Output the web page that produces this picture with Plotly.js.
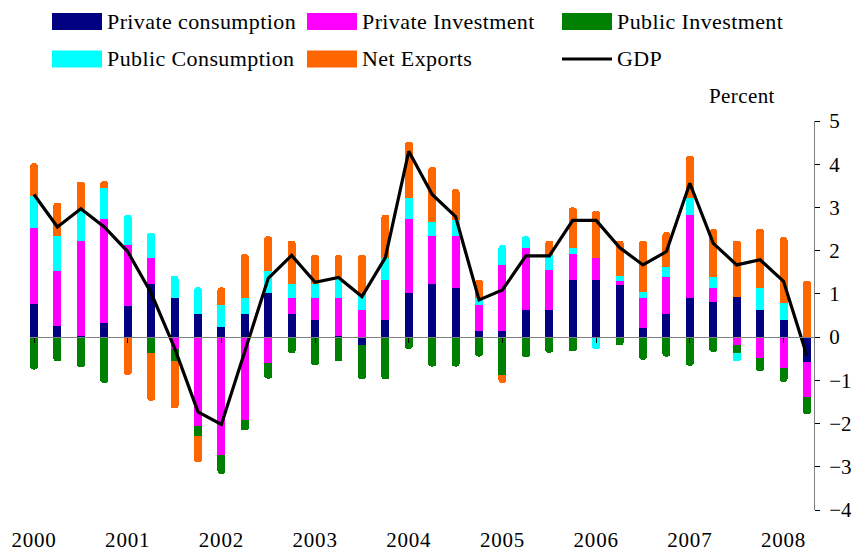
<!DOCTYPE html>
<html>
<head>
<meta charset="utf-8">
<script src="https://cdn.plot.ly/plotly-3.0.1.min.js"></script>
<style>
html,body{margin:0;padding:0;background:#fff;}
#chart{width:851px;height:556px;}
.annotation-text{letter-spacing:0.4px;}
.xtick text{letter-spacing:0.8px;}
</style>
</head>
<body>
<div id="chart"></div>
<script>
// Quarterly contributions to GDP growth (percent)
var quarters = ['2000Q1','2000Q2','2000Q3','2000Q4','2001Q1','2001Q2','2001Q3','2001Q4',
                '2002Q1','2002Q2','2002Q3','2002Q4','2003Q1','2003Q2','2003Q3','2003Q4',
                '2004Q1','2004Q2','2004Q3','2004Q4','2005Q1','2005Q2','2005Q3','2005Q4',
                '2006Q1','2006Q2','2006Q3','2006Q4','2007Q1','2007Q2','2007Q3','2007Q4',
                '2008Q1','2008Q2'];
var yearTickVals = ['2000Q1','2001Q1','2002Q1','2003Q1','2004Q1','2005Q1','2006Q1','2007Q1','2008Q1'];
var yearTickText = ['2000','2001','2002','2003','2004','2005','2006','2007','2008'];

var privateConsumption = [0.76,0.25,0.03,0.32,0.72,1.23,0.90,0.54,0.23,0.54,1.03,0.53,0.40,0.03,-0.18,0.40,
                          1.03,1.22,1.13,0.13,0.14,0.63,0.63,1.33,1.33,1.21,0.21,0.54,0.90,0.82,0.92,0.63,0.40,-0.58];
var privateInvestment  = [1.77,1.29,2.20,2.41,1.41,0.59,-0.28,-2.06,-2.72,-1.91,-0.60,0.37,0.50,0.87,0.63,0.91,
                          1.70,1.11,1.20,0.62,1.52,1.44,0.93,0.59,0.50,0.09,0.69,0.86,1.93,0.32,-0.19,-0.48,-0.71,-0.81];
var publicInvestment   = [-0.75,-0.56,-0.70,-1.06,0,-0.37,-0.28,-0.23,-0.44,-0.25,-0.36,-0.37,-0.65,-0.56,-0.80,-0.98,
                          -0.27,-0.68,-0.68,-0.45,-0.87,-0.46,-0.36,-0.33,0,-0.19,-0.52,-0.45,-0.66,-0.34,-0.17,-0.31,-0.33,-0.39];
var publicConsumption  = [0.74,0.79,0.74,0.71,0.70,0.60,0.52,0.61,0.52,0.36,0.51,0.32,0.32,0.50,0.35,0.51,
                          0.50,0.34,0.38,0.15,0.47,0.26,0.34,0.14,-0.28,0.12,0.14,0.23,0.38,0.26,-0.20,0.51,0.39,0];
var netExports         = [0.75,0.78,0.63,0.17,-0.87,-1.10,-1.09,-0.60,0.40,1.02,0.79,1.01,0.68,0.50,0.92,1.01,
                          1.29,1.26,0.71,0.43,-0.19,0,0.33,0.94,1.09,0.81,1.19,0.80,0.99,1.10,1.31,1.36,1.52,1.30];
var gdp                = [3.30,2.55,2.97,2.55,1.98,1.02,-0.25,-1.73,-2.02,-0.30,1.36,1.89,1.27,1.38,0.94,1.84,
                          4.30,3.30,2.79,0.86,1.09,1.88,1.88,2.70,2.70,2.07,1.67,1.98,3.56,2.17,1.67,1.79,1.29,-0.43];

var seriesNames  = ['Private consumption','Private Investment','Public Investment','Public Consumption','Net Exports'];
var seriesColors = ['#000080','#FF00FF','#008000','#00FFFF','#FF6600'];
var seriesData   = [privateConsumption, privateInvestment, publicInvestment, publicConsumption, netExports];

var FONT = '"Liberation Serif", "Times New Roman", serif';

var traces = seriesData.map(function(vals, k){
  return {
    type: 'bar', name: seriesNames[k], x: quarters, y: vals,
    width: 0.34,
    marker: {color: seriesColors[k], line: {width: 0}},
    hoverinfo: 'x+y+name'
  };
});
traces.push({
  type: 'scatter', mode: 'lines', name: 'GDP', x: quarters, y: gdp,
  line: {color: '#000000', width: 3.2}
});

// plot area in pixels
var L = 30, R = 814, T = 121, B = 510, W = 851, H = 556;
function px(x){ return (x - L) / (R - L); }
function py(y){ return (B - y) / (B - T); }

// manual legend (3 columns x 2 rows)
var legendItems = [
  {name: seriesNames[0], color: seriesColors[0], col: 0, row: 0, kind: 'box'},
  {name: seriesNames[1], color: seriesColors[1], col: 1, row: 0, kind: 'box'},
  {name: seriesNames[2], color: seriesColors[2], col: 2, row: 0, kind: 'box'},
  {name: seriesNames[3], color: seriesColors[3], col: 0, row: 1, kind: 'box'},
  {name: seriesNames[4], color: seriesColors[4], col: 1, row: 1, kind: 'box'},
  {name: 'GDP', color: '#000000', col: 2, row: 1, kind: 'line'}
];
var colX = [52, 307, 562];
var rowY = [21.5, 59];
var shapes = [], annotations = [];
legendItems.forEach(function(it){
  var x0 = colX[it.col], x1 = x0 + 50, yc = rowY[it.row];
  if (it.kind === 'box') {
    shapes.push({type: 'rect', xref: 'paper', yref: 'paper',
      x0: px(x0), x1: px(x1), y0: py(yc + 8.5), y1: py(yc - 8.5),
      fillcolor: it.color, line: {width: 0}});
  } else {
    shapes.push({type: 'line', xref: 'paper', yref: 'paper',
      x0: px(x0), x1: px(x1), y0: py(yc), y1: py(yc),
      line: {color: it.color, width: 3.2}});
  }
  annotations.push({xref: 'paper', yref: 'paper', x: px(x1 + 3), y: py(yc),
    xanchor: 'left', yanchor: 'middle', showarrow: false, text: it.name,
    font: {family: FONT, size: 22, color: '#000'}});
});
annotations.push({xref: 'paper', yref: 'paper', x: px(742), y: py(96),
  xanchor: 'center', yanchor: 'middle', showarrow: false, text: 'Percent',
  font: {family: FONT, size: 21, color: '#000'}});

var layout = {
  width: W, height: H,
  margin: {l: L, r: W - R, t: T, b: H - B, pad: 0},
  paper_bgcolor: '#fff', plot_bgcolor: '#fff',
  barmode: 'relative', bargap: 0,
  barcornerradius: 4,
  showlegend: false,
  font: {family: FONT, size: 21, color: '#000'},
  xaxis: {
    type: 'category', range: [-0.171, 33.30],
    anchor: 'free', position: (0 - (-4)) / 9,
    showline: true, linecolor: '#808080', linewidth: 1,
    ticks: 'outside', ticklen: 5, tickcolor: '#000', tickwidth: 1,
    tickmode: 'array', tickvals: yearTickVals, ticktext: yearTickText,
    ticklabelstandoff: 179,
    tickfont: {family: FONT, size: 21, color: '#000'},
    showgrid: false, zeroline: false, fixedrange: true
  },
  yaxis: {
    side: 'right', range: [-4, 5], dtick: 1, tick0: 0,
    showline: true, linecolor: '#808080', linewidth: 1,
    ticks: 'outside', ticklen: 5, tickcolor: '#000', tickwidth: 1,
    tickfont: {family: FONT, size: 21, color: '#000'},
    ticklabelstandoff: 5,
    showgrid: false, zeroline: false, fixedrange: true
  },
  shapes: shapes,
  annotations: annotations
};

Plotly.newPlot('chart', traces, layout, {displayModeBar: false, staticPlot: true});
</script>
</body>
</html>
